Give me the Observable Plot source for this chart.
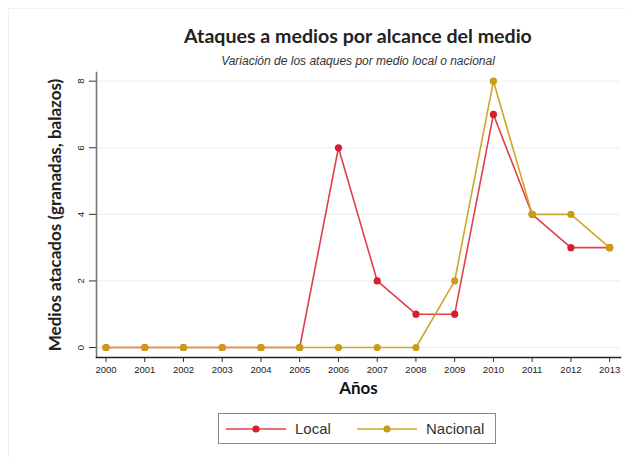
<!DOCTYPE html>
<html>
<head>
<meta charset="utf-8">
<script src="https://cdn.jsdelivr.net/npm/d3@7"></script>
<script src="https://cdn.jsdelivr.net/npm/@observablehq/plot@0.6"></script>
<style>
  html, body { margin: 0; padding: 0; background: #fff; }
  #wrap { position: relative; width: 626px; height: 457px; overflow: hidden; font-family: "Liberation Sans", Arial, sans-serif; }
  #frame { position: absolute; left: 8px; top: 8px; width: 640px; height: 470px; border-top: 1px solid #eef0f2; border-left: 1px solid #eef0f2; }
  #title { position: absolute; left: 96px; width: 524px; top: 24px; text-align: center; font-family: Lato, "Open Sans", sans-serif; font-weight: 700; font-size: 19.6px; color: #222; }
  #subtitle { position: absolute; left: 96px; width: 524px; top: 54px; text-align: center; font-family: "Liberation Sans", Arial, sans-serif; font-style: italic; font-size: 12px; color: #333; }
  #chart { position: absolute; left: 0; top: 0; }
  #legend { position: absolute; left: 218px; top: 413px; width: 276px; height: 29px; border: 1px solid #8a8a8a; box-sizing: content-box; }
  .item { position: absolute; top: 0; height: 29px; display: flex; align-items: center; font-size: 15px; color: #333; }
  .item svg { margin-right: 9px; }
</style>
</head>
<body>
<div id="wrap">
  <div id="frame"></div>
  <div id="chart"></div>
  <div id="title"></div>
  <div id="subtitle"></div>
  <div id="legend"></div>
</div>
<script>
const titleText = "Ataques a medios por alcance del medio";
const subtitleText = "Variación de los ataques por medio local o nacional";
const yLabel = "Medios atacados (granadas, balazos)";
const xLabel = "Años";

const years = [2000, 2001, 2002, 2003, 2004, 2005, 2006, 2007, 2008, 2009, 2010, 2011, 2012, 2013];
const localValues    = [0, 0, 0, 0, 0, 0, 6, 2, 1, 1, 7, 4, 3, 3];
const nacionalValues = [0, 0, 0, 0, 0, 0, 0, 0, 0, 2, 8, 4, 4, 3];
const yTicks = [0, 2, 4, 6, 8];
const seriesNames = ["Local", "Nacional"];
const lineColors = ["#e0404e", "#cfa62a"];
const dotColors  = ["#d81e2c", "#c99d14"];

const data = [];
years.forEach((yr, i) => {
  data.push({year: yr, value: localValues[i], series: seriesNames[0]});
  data.push({year: yr, value: nacionalValues[i], series: seriesNames[1]});
});

document.getElementById("title").textContent = titleText;
document.getElementById("subtitle").textContent = subtitleText;

const marks = [
  Plot.gridY(yTicks, {stroke: "#e6eef3", strokeOpacity: 1, strokeWidth: 1}),
  Plot.axisY({ticks: yTicks, tickSize: 7, tickFormat: () => "", stroke: "#333", label: null}),
  Plot.text(yTicks, {y: d => d, text: d => String(d), frameAnchor: "left", textAnchor: "middle", lineAnchor: "middle", dx: -16, rotate: -90, fontSize: 9.5, fill: "#222"}),
  Plot.axisX({ticks: years, tickFormat: d => String(d), tickSize: 5, tickPadding: 4, fontSize: 9.5, label: null, stroke: "#333", fill: "#222"}),
  Plot.frame({anchor: "left", stroke: "#777", strokeWidth: 1.6}),
  Plot.frame({anchor: "bottom", stroke: "#222", strokeWidth: 1.4}),
  Plot.text([yLabel], {text: d => d, frameAnchor: "left", textAnchor: "middle", lineAnchor: "middle", dx: -41, rotate: -90, fontSize: 17, fontWeight: 700, fontFamily: "Lato, 'Open Sans', sans-serif", fill: "#222"}),
  Plot.text([xLabel], {text: d => d, frameAnchor: "bottom", textAnchor: "middle", lineAnchor: "middle", dy: 31, fontSize: 17, fontWeight: 700, fontFamily: "Lato, 'Open Sans', sans-serif", fill: "#111"})
];
seriesNames.forEach((name, idx) => {
  const sub = data.filter(d => d.series === name);
  marks.push(Plot.line(sub, {x: "year", y: "value", stroke: lineColors[idx], strokeWidth: 1.6}));
  marks.push(Plot.dot(sub, {x: "year", y: "value", fill: dotColors[idx], r: 3.6}));
});

const chart = Plot.plot({
  width: 626,
  height: 457,
  marginTop: 72,
  marginBottom: 100,
  marginLeft: 96,
  marginRight: 6,
  style: {fontFamily: "'Liberation Sans', Arial, sans-serif", background: "transparent"},
  x: {domain: [1999.755, 2013.28], axis: null},
  y: {domain: [-0.3, 8.26], axis: null},
  marks
});
document.getElementById("chart").appendChild(chart);

// legend
const legend = document.getElementById("legend");
const legendPos = [{left: 7, w: 60}, {left: 138, w: 60}];
seriesNames.forEach((name, i) => {
  const item = document.createElement("div");
  item.className = "item";
  item.style.left = legendPos[i].left + "px";
  const w = legendPos[i].w;
  item.innerHTML = `<svg width="${w}" height="10"><line x1="0" x2="${w}" y1="5" y2="5" stroke="${lineColors[i]}" stroke-width="1.6"/><circle cx="${w/2}" cy="5" r="3.6" fill="${dotColors[i]}"/></svg><span>${name}</span>`;
  legend.appendChild(item);
});
</script>
</body>
</html>
